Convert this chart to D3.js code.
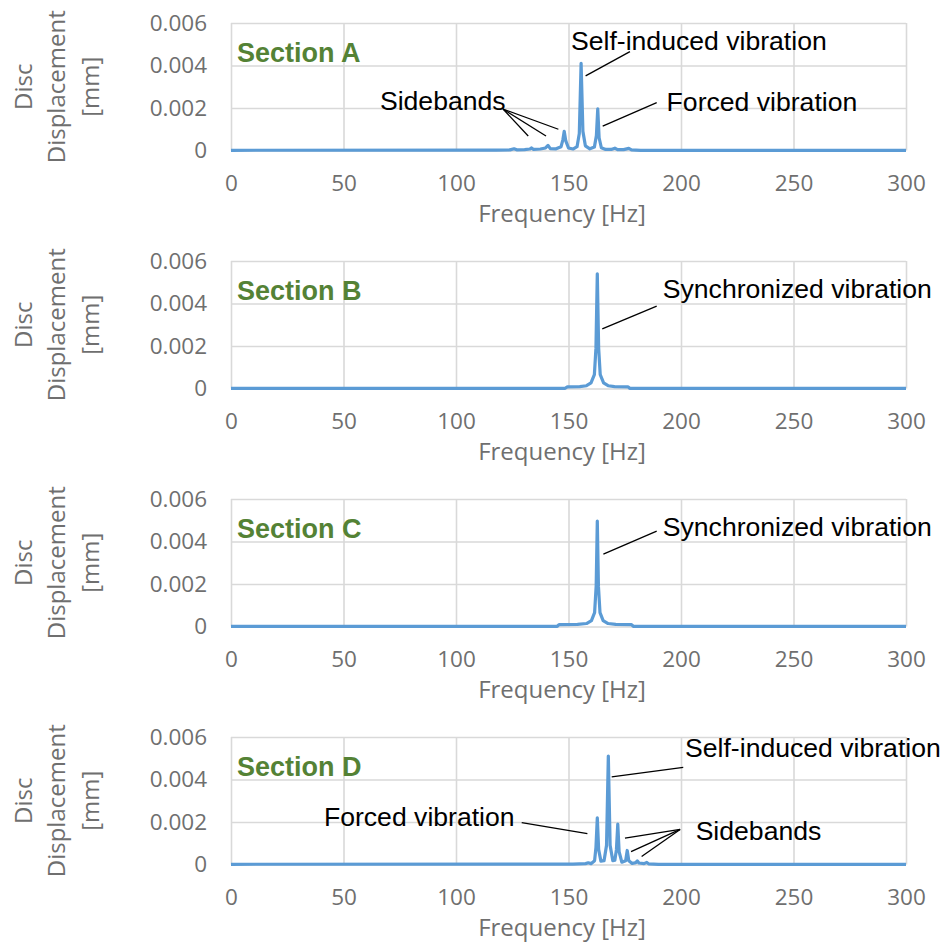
<!DOCTYPE html>
<html>
<head>
<meta charset="utf-8">
<script src="https://cdn.jsdelivr.net/npm/d3@7/dist/d3.min.js"></script>
<style>
  body { margin: 0; background: #ffffff; }
  svg { display: block; }
</style>
</head>
<body>
<svg id="chart" width="946" height="947"></svg>
<script>
// Frequency axis (Hz) and displacement axis (mm)
const xTicks = [0, 50, 100, 150, 200, 250, 300];
const yTicks = [0, 0.002, 0.004, 0.006];
const yTickLabels = ["0", "0.002", "0.004", "0.006"];
const sectionNames = ["Section A", "Section B", "Section C", "Section D"];

// Displacement spectra, [frequency Hz, displacement mm]
const spectrumA = [
  [0, 0.00001], [118, 0.00002], [124, 0.00003], [125.8, 0.00008], [127, 0.00003],
  [130.5, 0.00004], [132.8, 0.00007], [133.6, 0.00012], [134.5, 0.00005],
  [137.5, 0.00007], [139.8, 0.00012], [140.9, 0.00024], [141.9, 0.00009],
  [144.5, 0.00008], [146.7, 0.00018], [147.5, 0.0005], [148.1, 0.0009],
  [148.8, 0.00045], [150, 0.00012], [152, 0.00007], [153.8, 0.00018],
  [154.8, 0.0008], [155.6, 0.0041], [156.4, 0.0009], [157.5, 0.00022],
  [159.5, 0.00008], [161.5, 0.00016], [162.4, 0.0007], [163.0, 0.00196],
  [163.6, 0.0006], [164.6, 0.00013], [166.5, 0.00005], [169, 0.00005],
  [170.6, 0.00011], [171.8, 0.00004], [174.5, 0.00004], [176.8, 0.0001],
  [178, 0.00003], [182, 0.00001], [300, 0.00001]
];
const spectrumB = [
  [0, 0.00001], [148.5, 0.00001], [149.5, 0.00008], [155, 0.00009],
  [158, 0.00013], [160, 0.00026], [161.5, 0.00065], [162.2, 0.0019],
  [162.8, 0.0054], [163.4, 0.0019], [164.1, 0.00065], [165.6, 0.00026],
  [167.6, 0.00013], [170.5, 0.00009], [176.5, 0.00008], [177.2, 0.00001],
  [300, 0.00001]
];
const spectrumC = [
  [0, 0.00001], [145, 0.00001], [145.8, 0.00009], [154, 0.0001],
  [158, 0.00014], [160.2, 0.00028], [161.6, 0.00065], [162.3, 0.0019],
  [162.8, 0.00496], [163.3, 0.0019], [164, 0.00065], [165.4, 0.00028],
  [167.6, 0.00014], [171, 0.0001], [178, 0.00009], [178.8, 0.00001],
  [300, 0.00001]
];
const spectrumD = [
  [0, 0.00001], [152, 0.00002], [157.6, 0.00004], [158.8, 0.00008],
  [160, 0.00004], [161.6, 0.00018], [162.2, 0.0008], [162.8, 0.0022],
  [163.4, 0.0007], [164.4, 0.00016], [165.8, 0.00018], [166.9, 0.0009],
  [167.7, 0.0051], [168.5, 0.0009], [169.7, 0.00018], [170.6, 0.0002],
  [171.3, 0.0007], [171.9, 0.0019], [172.5, 0.0006], [173.7, 0.00011],
  [175.4, 0.00018], [176.1, 0.00066], [176.8, 0.00018], [178.3, 0.00005],
  [179.9, 0.00009], [180.6, 0.00017], [181.3, 0.00007], [183.6, 0.00004],
  [184.8, 0.0001], [185.6, 0.00003], [190, 0.00001], [300, 0.00001]
];
const spectra = [spectrumA, spectrumB, spectrumC, spectrumD];

// Callout texts and leader lines, anchored in data units [Hz, mm]
const calloutsA = [
  { text: "Self-induced vibration", at: [151.1, 0.00475],
    from: [177.3, 0.00465], to: [[157.6, 0.00351]] },
  { text: "Forced vibration", at: [193.6, 0.00186],
    from: [189.2, 0.00225], to: [[165.2, 0.00115]] },
  { text: "Sidebands", at: [66.2, 0.0019],
    from: [120.9, 0.00195], to: [[132.1, 0.00068], [140.0, 0.00068], [145.5, 0.001]] }
];
const calloutsB = [
  { text: "Synchronized vibration", at: [191.9, 0.00424],
    from: [189.2, 0.00388], to: [[165.0, 0.00281]] }
];
const calloutsC = [
  { text: "Synchronized vibration", at: [191.9, 0.00428],
    from: [189.2, 0.00449], to: [[165.5, 0.00341]] }
];
const calloutsD = [
  { text: "Self-induced vibration", at: [201.8, 0.00507],
    from: [201.0, 0.00457], to: [[169.2, 0.00412]] },
  { text: "Sidebands", at: [206.5, 0.00113],
    from: [199.6, 0.00165], to: [[175.1, 0.00124], [177.8, 0.00061], [182.5, 0.00038]] },
  { text: "Forced vibration", at: [41.3, 0.0018],
    from: [129.2, 0.00197], to: [[158.4, 0.00145]] }
];
const callouts = [calloutsA, calloutsB, calloutsC, calloutsD];

// Layout
const svg = d3.select("#chart");
const plotLeft = 231, plotRight = 906;
const panelTop0 = 23, panelStep = 238, panelHeight = 127.5;
const tickFont = "'Open Sans', sans-serif";
const labelFont = "'Liberation Sans', Arial, sans-serif";
const gridColor = "#d9d9d9";
const tickColor = "#6f6f6f";
const lineColor = "#5b9bd5";

const x = d3.scaleLinear().domain([0, 300]).range([plotLeft, plotRight]);

spectra.forEach((series, i) => {
  const top = panelTop0 + i * panelStep;
  const bottom = top + panelHeight;
  const y = d3.scaleLinear().domain([0, 0.006]).range([bottom, top]);
  const g = svg.append("g").attr("class", "panel");

  // vertical gridlines + frequency tick labels
  const xAxis = g.append("g")
    .attr("transform", `translate(0,${bottom})`)
    .call(d3.axisBottom(x).tickValues(xTicks).tickSize(-panelHeight).tickPadding(25)
      .tickFormat(d3.format("d")));
  // horizontal gridlines + displacement tick labels
  const yAxis = g.append("g")
    .attr("transform", `translate(${plotLeft},0)`)
    .call(d3.axisLeft(y).tickValues(yTicks).tickSize(-(plotRight - plotLeft)).tickPadding(24)
      .tickFormat((d, k) => yTickLabels[k]));

  [xAxis, yAxis].forEach(a => {
    a.select(".domain").remove();
    a.selectAll(".tick line").attr("stroke", gridColor).attr("stroke-width", 1.6);
    a.selectAll(".tick text")
      .attr("fill", tickColor)
      .style("font-family", tickFont)
      .style("font-size", "22.5px");
  });

  // spectrum line
  g.append("path")
    .datum(series)
    .attr("fill", "none")
    .attr("stroke", lineColor)
    .attr("stroke-width", 3.2)
    .attr("stroke-linejoin", "round")
    .attr("d", d3.line().x(d => x(d[0])).y(d => y(d[1])));

  // section label
  g.append("text")
    .attr("x", x(2.7))
    .attr("y", top + 39)
    .attr("fill", "#548235")
    .style("font-family", labelFont)
    .style("font-weight", "bold")
    .style("font-size", "27px")
    .text(sectionNames[i]);

  // callouts
  callouts[i].forEach(c => {
    c.to.forEach(p => {
      g.append("line")
        .attr("x1", x(c.from[0])).attr("y1", y(c.from[1]))
        .attr("x2", x(p[0])).attr("y2", y(p[1]))
        .attr("stroke", "#000").attr("stroke-width", 1.3);
    });
    g.append("text")
      .attr("x", x(c.at[0])).attr("y", y(c.at[1]))
      .attr("fill", "#000")
      .style("font-family", labelFont)
      .style("font-size", "26.6px")
      .text(c.text);
  });

  // axis titles
  g.append("text")
    .attr("x", 562).attr("y", bottom + 71.5)
    .attr("text-anchor", "middle")
    .attr("fill", tickColor)
    .style("font-family", tickFont)
    .style("font-size", "24px")
    .text("Frequency [Hz]");

  const yTitle = g.append("text")
    .attr("transform", `translate(0,${(top + bottom) / 2}) rotate(-90)`)
    .attr("text-anchor", "middle")
    .attr("fill", tickColor)
    .style("font-family", tickFont)
    .style("font-size", "24px");
  [["Disc", 32], ["Displacement", 65], ["[mm]", 99]].forEach(([t, bx]) => {
    yTitle.append("tspan").attr("x", 0).attr("y", bx).text(t);
  });
});
</script>
</body>
</html>
